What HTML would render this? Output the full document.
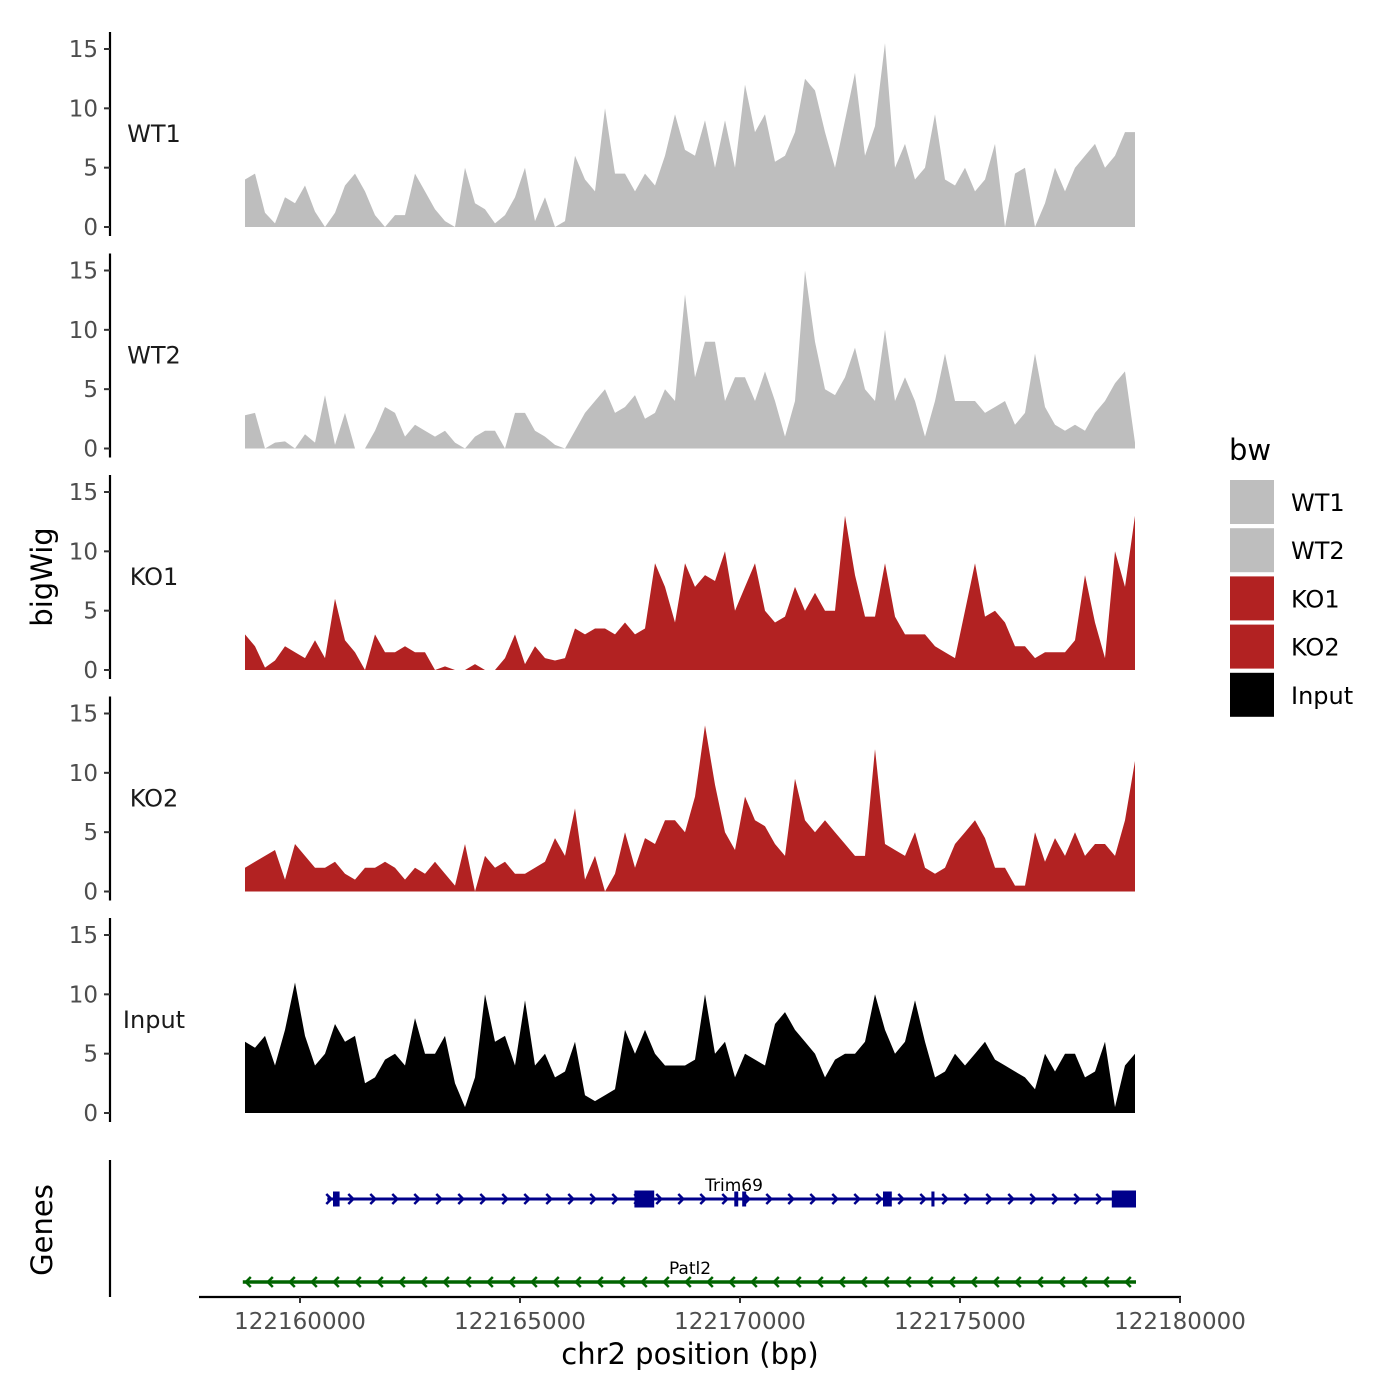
<!DOCTYPE html>
<html><head><meta charset="utf-8"><style>
body{margin:0;background:#fff}
svg{display:block;font-family:"DejaVu Sans","Liberation Sans",sans-serif}
</style></head><body>
<svg id="chart" width="1400" height="1400" viewBox="0 0 1400 1400" xmlns="http://www.w3.org/2000/svg">
<g id="panels"></g>
<g id="genes"></g>
<text x="52" y="577" font-size="29" text-anchor="middle" transform="rotate(-90 52 577)">bigWig</text>
<text x="52" y="1230" font-size="29" text-anchor="middle" transform="rotate(-90 52 1230)">Genes</text>
<text x="690" y="1364" font-size="29" text-anchor="middle">chr2 position (bp)</text>
<g id="legend"></g>
</svg>
<script>
const trackNames = ["WT1","WT2","KO1","KO2","Input"];
const trackColors = ["#bebebe","#bebebe","#b22222","#b22222","#000000"];
const yTicks = [0,5,10,15];
const xTicks = [122160000,122165000,122170000,122175000,122180000];
const binStart = 122158750;
const binWidth = 227.27;
const wt1 = [4,4.5,1.2,0.3,2.5,2,3.5,1.3,0,1.2,3.5,4.5,3,1,0,1,1,4.5,3,1.5,0.5,0,5,2,1.5,0.3,1,2.5,5,0.5,2.5,0,0.5,6,4,3,10,4.5,4.5,3,4.5,3.5,6,9.5,6.5,6,9,5,9,5,12,8,9.5,5.5,6,8,12.5,11.5,8,5,9,13,6,8.5,15.5,5,7,4,5,9.5,4,3.5,5,3,4,7,0,4.5,5,0,2,5,3,5,6,7,5,6,8,8];
const wt2 = [2.8,3,0,0.5,0.6,0,1.2,0.5,4.5,0.3,3,0,0,1.5,3.5,3,1,2,1.5,1,1.5,0.5,0,1,1.5,1.5,0,3,3,1.5,1,0.3,0,1.5,3,4,5,3,3.5,4.5,2.5,3,5,4,13,6,9,9,4,6,6,4,6.5,4,1,4,15,9,5,4.5,6,8.5,5,4,10,4,6,4,1,4,8,4,4,4,3,3.5,4,2,3,8,3.5,2,1.5,2,1.5,3,4,5.5,6.5,0.5];
const ko1 = [3,2,0.2,0.8,2,1.5,1,2.5,1,6,2.5,1.5,0,3,1.5,1.5,2,1.5,1.5,0,0.3,0,0,0.5,0,0,1,3,0.5,2,1,0.8,1,3.5,3,3.5,3.5,3,4,3,3.5,9,7,4,9,7,8,7.5,10,5,7,9,5,4,4.5,7,5,6.5,5,5,13,8,4.5,4.5,9,4.5,3,3,3,2,1.5,1,5,9,4.5,5,4,2,2,1,1.5,1.5,1.5,2.5,8,4,1,10,7,13];
const ko2 = [2,2.5,3,3.5,1,4,3,2,2,2.5,1.5,1,2,2,2.5,2,1,2,1.5,2.5,1.5,0.5,4,0,3,2,2.5,1.5,1.5,2,2.5,4.5,3,7,1,3,0,1.5,5,2,4.5,4,6,6,5,8,14,9,5,3.5,8,6,5.5,4,3,9.5,6,5,6,5,4,3,3,12,4,3.5,3,5,2,1.5,2,4,5,6,4.5,2,2,0.5,0.5,5,2.5,4.5,3,5,3,4,4,3,6,11];
const input = [6,5.5,6.5,4,7,11,6.5,4,5,7.5,6,6.5,2.5,3,4.5,5,4,8,5,5,6.5,2.5,0.5,3,10,6,6.5,4,9.5,4,5,3,3.5,6,1.5,1,1.5,2,7,5,7,5,4,4,4,4.5,10,5,6,3,5,4.5,4,7.5,8.5,7,6,5,3,4.5,5,5,6,10,7,5,6,9.5,6,3,3.5,5,4,5,6,4.5,4,3.5,3,2,5,3.5,5,5,3,3.5,6,0.5,4,5];
const series = [wt1,wt2,ko1,ko2,input];
const trimExons = [[122160750,122160900],[122167600,122168050],[122169870,122169960],[122170050,122170140],[122173250,122173450],[122174350,122174420],[122178450,122179000]];
const trimRange = [122160620,122179000];
const patlRange = [122158700,122179000];

const NS="http://www.w3.org/2000/svg";
function mk(tag,attrs,parent){const e=document.createElementNS(NS,tag);for(const k in attrs)e.setAttribute(k,attrs[k]);parent.appendChild(e);return e;}
function xScale(bp){return 300+(bp-122160000)*880/20000;}
const panelStep=221.5;
function yScale(v,p){return 227+p*panelStep - v*178/15;}

const panels=document.getElementById('panels');
series.forEach((vals,p)=>{
  const g=mk('g',{},panels);
  
  
  let d='M'+xScale(binStart).toFixed(1)+','+yScale(0,p);
  vals.forEach((v,i)=>{d+=' L'+xScale(binStart+i*binWidth).toFixed(1)+','+yScale(v,p).toFixed(1);});
  d+=' L'+xScale(binStart+(vals.length-1)*binWidth).toFixed(1)+','+yScale(0,p)+' Z';
  const a=mk('path',{d:d,fill:trackColors[p]},g);
  
  
  const ax=mk('line',{x1:110,x2:110,y1:32+p*panelStep,y2:236+p*panelStep,stroke:'#000','stroke-width':2.2},g);
  
  
  yTicks.forEach(t=>{
    const y=yScale(t,p);
    mk('line',{x1:104,x2:110,y1:y,y2:y,stroke:'#333','stroke-width':2},g);
    const tx=mk('text',{x:98,y:y+8,'font-size':23,'text-anchor':'end',fill:'#4d4d4d'},g);
    
    
    tx.textContent=t;
  });
  const lb=mk('text',{x:154,y:142+p*panelStep,'font-size':24,'text-anchor':'middle',fill:'#1a1a1a'},g);
  
  
  lb.textContent=trackNames[p];
});

const genes=document.getElementById('genes');
mk('line',{x1:110,x2:110,y1:1160,y2:1297,stroke:'#000','stroke-width':2.2},genes);
const xa=mk('line',{x1:199,x2:1181,y1:1297,y2:1297,stroke:'#000','stroke-width':2.2},genes);


xTicks.forEach(t=>{
  const x=xScale(t);
  mk('line',{x1:x,x2:x,y1:1297,y2:1303,stroke:'#333','stroke-width':2},genes);
  const tx=mk('text',{x:x,y:1329,'font-size':23,'text-anchor':'middle',fill:'#4d4d4d'},genes);
  
  
  tx.textContent=t;
});
const tg=mk('g',{},genes);


const ty=1199;
mk('line',{x1:xScale(trimRange[0]),x2:xScale(trimRange[1]),y1:ty,y2:ty,stroke:'#00008b','stroke-width':3},tg);
let cd='';
for(let x=xScale(trimRange[0])+2;x<xScale(trimRange[1])-8;x+=22){cd+='M'+(x-3)+','+(ty-5)+' L'+(x+2)+','+ty+' L'+(x-3)+','+(ty+5)+' ';}
mk('path',{d:cd,fill:'none',stroke:'#00008b','stroke-width':2.5},tg);
trimExons.forEach(e=>{
  const x1=xScale(e[0]),x2=xScale(e[1]);
  const h=(e[1]-e[0])>300?17:15;
  mk('rect',{x:x1,y:ty-h/2,width:Math.max(3,x2-x1),height:h,fill:'#00008b'},tg);
});
const tt=mk('text',{x:734,y:1191,'font-size':17,'text-anchor':'middle',fill:'#000'},tg);
tt.textContent='Trim69';
const pg=mk('g',{},genes);


const py=1282;
mk('line',{x1:xScale(patlRange[0]),x2:xScale(patlRange[1]),y1:py,y2:py,stroke:'#006400','stroke-width':3.5},pg);
let pd='';
for(let x=xScale(patlRange[0])+4;x<xScale(patlRange[1])-4;x+=22){pd+='M'+(x+4)+','+(py-5)+' L'+(x-1)+','+py+' L'+(x+4)+','+(py+5)+' ';}
mk('path',{d:pd,fill:'none',stroke:'#006400','stroke-width':2.5},pg);
const pt=mk('text',{x:690,y:1274,'font-size':17,'text-anchor':'middle',fill:'#000'},pg);
pt.textContent='Patl2';

const lg=document.getElementById('legend');
const lt=mk('text',{x:1229,y:460,'font-size':29,fill:'#000'},lg);


lt.textContent='bw';
trackNames.forEach((n,i)=>{
  const g=mk('g',{},lg);
  
  
  const y=480+i*48.2;
  mk('rect',{x:1230,y:y,width:44,height:44,fill:trackColors[i]},g);
  const t=mk('text',{x:1291,y:y+31,'font-size':24,fill:'#000'},g);
  t.textContent=n;
});
</script>
</body></html>
